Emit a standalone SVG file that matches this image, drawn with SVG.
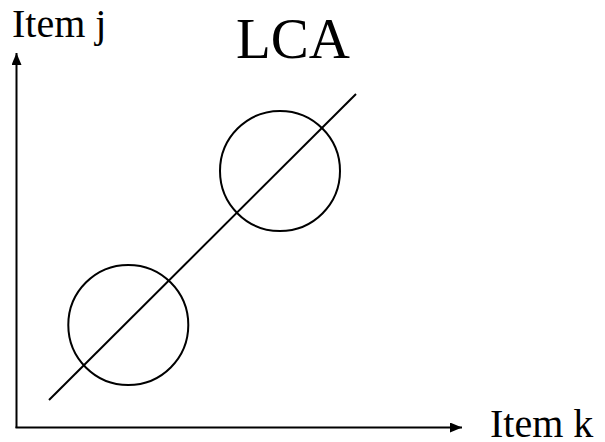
<svg xmlns="http://www.w3.org/2000/svg" width="605" height="442" viewBox="0 0 605 442">
<style>
.ln{stroke:#000;stroke-width:2;fill:none}
.t{font-family:"Liberation Serif","Times New Roman",serif;fill:#000}
</style>
<defs>
<marker id="ah" markerWidth="12" markerHeight="10" refX="12" refY="5" orient="auto" markerUnits="userSpaceOnUse">
<path d="M0,0 L12,5 L0,10 Z" fill="#000"/>
</marker>
</defs>
<rect width="605" height="442" fill="#fff"/>
<g id="connectors">
<line class="ln" x1="16.5" y1="428" x2="16.5" y2="53" marker-end="url(#ah)"/>
<line class="ln" x1="15.5" y1="427.5" x2="462" y2="427.5" marker-end="url(#ah)"/>
<line class="ln" x1="49" y1="400" x2="356" y2="94"/>
</g>
<g id="circle-low"><circle class="ln" cx="128.3" cy="325" r="60"/></g>
<g id="circle-high"><circle class="ln" cx="280" cy="171" r="60"/></g>
<g id="label-j"><text class="t" x="12" y="37" font-size="40">Item j</text></g>
<g id="label-lca"><text class="t" x="236" y="58" font-size="57">LCA</text></g>
<g id="label-k"><text class="t" x="490" y="437" font-size="40">Item k</text></g>
</svg>
